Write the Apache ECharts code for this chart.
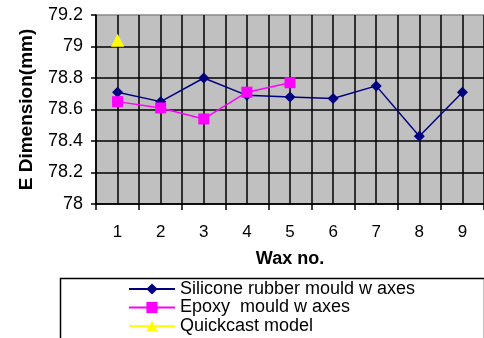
<!DOCTYPE html>
<html>
<head>
<meta charset="utf-8">
<script src="https://cdn.jsdelivr.net/npm/echarts@6/dist/echarts.min.js"></script>
<style>
  html, body { margin: 0; padding: 0; background: #fff; }
  #chart { width: 484px; height: 338px; }
</style>
</head>
<body>
<div id="chart"></div>
<script>
// Wax numbers along the x axis
const waxNo = ['1', '2', '3', '4', '5', '6', '7', '8', '9'];

// E dimension (mm) for each wax pattern
const siliconeRubber = [78.71, 78.65, 78.80, 78.69, 78.68, 78.67, 78.75, 78.43, 78.71];
const epoxyMould = [78.65, 78.61, 78.54, 78.71, 78.77, null, null, null, null];
const quickcast = [79.04, null, null, null, null, null, null, null, null];

const seriesNames = ['Silicone rubber mould w axes', 'Epoxy  mould w axes', 'Quickcast model'];

const FONT = '"Liberation Sans", Arial, sans-serif';

// one legend row per series, stacked tightly
const legendRowTops = [280, 298.5, 317];
const legends = seriesNames.map((name, i) => ({
  left: 128, top: legendRowTops[i],
  padding: 0,
  itemWidth: 46, itemHeight: 14,
  textStyle: { fontFamily: FONT, fontSize: 18, color: '#000' },
  data: [name]
}));

const chart = echarts.init(document.getElementById('chart'), null, { renderer: 'canvas' });

chart.setOption({
  animation: false,
  backgroundColor: '#ffffff',
  grid: {
    left: 96, top: 15, width: 395, height: 189,
    show: true, backgroundColor: '#c0c0c0', borderWidth: 0
  },
  // frame around the legend, running past the bottom edge
  graphic: [{
    type: 'rect',
    left: 58, top: 276,
    shape: { width: 424, height: 90 },
    style: { fill: 'none', stroke: '#000', lineWidth: 1.5 },
    z: 0
  }],
  legend: legends,
  xAxis: [
    {
      type: 'category',
      data: waxNo,
      boundaryGap: true,
      name: 'Wax no.',
      nameLocation: 'middle',
      nameGap: 46,
      nameTextStyle: { fontFamily: FONT, fontSize: 18, fontWeight: 'bold', color: '#000' },
      axisLine: { lineStyle: { color: '#000', width: 1.5 } },
      axisTick: { show: true, length: 6, lineStyle: { color: '#000', width: 1.5 } },
      axisLabel: { fontFamily: FONT, fontSize: 17, color: '#000', margin: 20 },
      splitLine: { show: false }
    },
    {
      // vertical grid lines at every half category step
      type: 'value',
      min: 0, max: waxNo.length, interval: 0.5,
      position: 'bottom',
      axisLine: { show: false },
      axisTick: { show: false },
      axisLabel: { show: false },
      splitLine: { show: true, lineStyle: { color: '#000', width: 1.5 } }
    }
  ],
  yAxis: {
    type: 'value',
    min: 78, max: 79.2, interval: 0.2,
    name: 'E Dimension(mm)',
    nameLocation: 'middle',
    nameGap: 60,
    nameTextStyle: { fontFamily: FONT, fontSize: 19, fontWeight: 'bold', color: '#000' },
    axisLine: { show: true, lineStyle: { color: '#000', width: 1.5 } },
    axisTick: { show: true, length: 5, lineStyle: { color: '#000', width: 1.5 } },
    axisLabel: {
      fontFamily: FONT, fontSize: 18, color: '#000', margin: 13,
      formatter: v => String(Math.round(v * 10) / 10)
    },
    splitLine: {
      show: true,
      lineStyle: { color: ['#000', '#000', '#000', '#000', '#000', '#000', '#888'], width: 1.5 }
    }
  },
  series: [
    {
      name: seriesNames[0],
      type: 'line',
      data: siliconeRubber,
      z: 3,
      symbol: 'diamond', symbolSize: 11,
      itemStyle: { color: '#000080' },
      lineStyle: { color: '#000080', width: 1.5 }
    },
    {
      name: seriesNames[1],
      type: 'line',
      data: epoxyMould,
      z: 4,
      symbol: 'rect', symbolSize: 11,
      itemStyle: { color: '#ff00ff' },
      lineStyle: { color: '#ff00ff', width: 1.5 }
    },
    {
      name: seriesNames[2],
      type: 'line',
      data: quickcast,
      z: 5,
      symbol: 'triangle', symbolSize: 13,
      itemStyle: { color: '#ffff00' },
      lineStyle: { color: '#ffff00', width: 1.5 }
    }
  ]
});
</script>
</body>
</html>
